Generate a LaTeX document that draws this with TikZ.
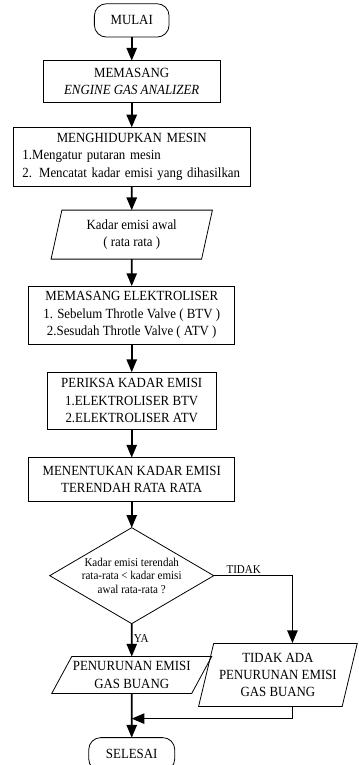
\documentclass[tikz,border=0pt]{standalone}
\usepackage{fontspec}
\setmainfont{Liberation Serif}[FakeStretch=0.92]
\usetikzlibrary{arrows, shapes.geometric, positioning}

\begin{document}
\begin{tikzpicture}[font=\fontsize{10.5}{13}\selectfont,
  term/.style={draw, line width=0.6pt, rounded corners=9pt, minimum width=56pt, minimum height=25pt},
  proc/.style={draw, line width=0.6pt, rectangle, align=center, inner sep=3pt},
  io/.style={draw, line width=0.6pt, trapezium, trapezium left angle=73, trapezium right angle=107, trapezium stretches body, align=center, inner sep=2pt},
  dec/.style={draw, line width=0.6pt, diamond, aspect=1.7, inner sep=-2pt, minimum width=123pt, minimum height=72pt, align=center, font=\fontsize{9}{10}\selectfont},
  flow/.style={-triangle 45, line width=1.2pt},
  lbl/.style={font=\fontsize{9}{10}\selectfont, inner sep=1pt}]
\useasboundingbox (0,0) rectangle (268.5pt,-573.75pt);
\matrix (m) [row sep=17pt, matrix anchor=north west, inner sep=0pt, outer sep=0pt] at (9.5pt,-2.5pt) {
\node[term](start){MULAI}; \\
\node[proc, minimum width=133pt, minimum height=31.5pt](gas){MEMASANG\\ \textit{ENGINE GAS ANALIZER}}; \\[1pt]
\node[proc, text width=164pt, align=left, inner xsep=7pt, minimum height=44pt](engine){\hfill MENGHIDUPKAN MESIN\hfill\null\\ 1.Mengatur putaran mesin\\ 2. Mencatat kadar emisi yang dihasilkan}; \\[0.5pt]
\node[io, minimum width=121pt, minimum height=36.75pt](init){Kadar emisi awal\\ ( rata rata )}; \\[2.5pt]
\node[proc, minimum width=154.5pt, minimum height=43.5pt](elec){MEMASANG ELEKTROLISER\\ 1. Sebelum Throtle Valve ( BTV )\\ 2.Sesudah Throtle Valve ( ATV )}; \\[3.5pt]
\node[proc, minimum width=127pt, minimum height=43pt](check){PERIKSA KADAR EMISI\\ 1.ELEKTROLISER BTV\\ 2.ELEKTROLISER ATV}; \\[3.5pt]
\node[proc, minimum width=154.5pt, minimum height=33pt](low){MENENTUKAN KADAR EMISI\\ TERENDAH RATA RATA}; \\[2pt]
\node[dec](cmp){Kadar emisi terendah\\ rata-rata < kadar emisi\\ awal rata-rata ?}; \\[7pt]
\node[io, trapezium left angle=58, trapezium right angle=122, inner xsep=-6pt, minimum width=120pt, minimum height=27.75pt](yes){PENURUNAN EMISI\\ GAS BUANG}; \\[15.5pt]
\node[term, minimum width=64.5pt](stop){SELESAI}; \\
};
\node[io, inner xsep=-6pt, minimum width=119pt, minimum height=47.25pt, right=3pt of yes](no){TIDAK ADA\\ PENURUNAN EMISI\\ GAS BUANG};
% alur utama
\draw[flow] (start) -- (gas);
\draw[flow] (gas) -- (engine);
\draw[flow] (engine) -- (init);
\draw[flow] (init) -- (elec);
\draw[flow] (elec) -- (check);
\draw[flow] (check) -- (low);
\draw[flow] (low) -- (cmp);
\draw[flow] (cmp.south) -- (yes.north) node[pos=0.45, lbl, right]{YA};
\draw[flow] (cmp.east) -| ([xshift=10.9pt]no.north) node[pos=0, lbl, anchor=south west, xshift=8pt]{TIDAK};
\path (yes.south) -- (stop.north) coordinate[pos=0.57] (join);
\draw[flow] (yes.south) -- (stop.north);
\draw[flow] ([xshift=10.9pt]no.south) |- (join);
\end{tikzpicture}
\end{document}
